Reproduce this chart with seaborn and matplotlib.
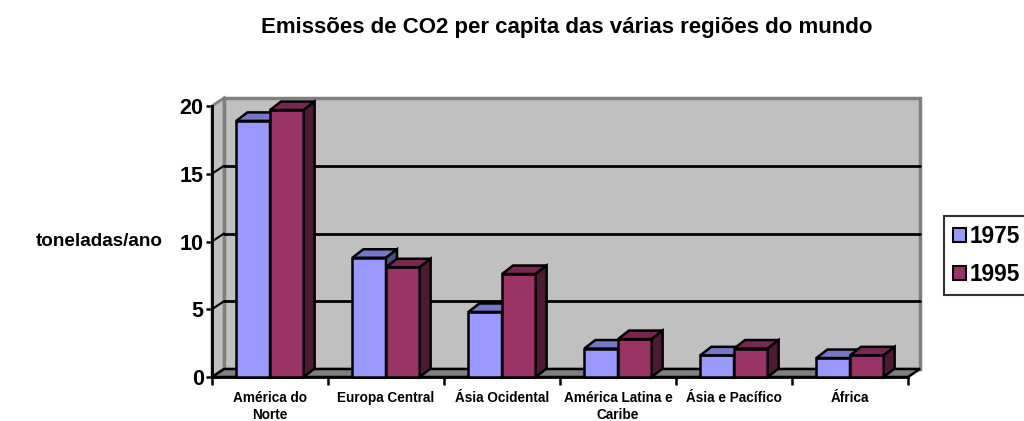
import numpy as np
import pandas as pd
import matplotlib
matplotlib.use("Agg")
import matplotlib.pyplot as plt
from matplotlib.patches import Polygon, Rectangle
from matplotlib.lines import Line2D
from matplotlib.colors import to_rgb
import seaborn as sns

# ---- data -------------------------------------------------------------
regions = ["América do\nNorte", "Europa Central", "Ásia Ocidental",
           "América Latina e\nCaribe", "Ásia e Pacífico", "África"]
years = ["1975", "1995"]
values_1975 = [18.9, 8.8, 4.8, 2.1, 1.6, 1.4]
values_1995 = [19.7, 8.1, 7.6, 2.8, 2.1, 1.6]
y_ticks = [0, 5, 10, 15, 20]
colors = {"1975": "#9999FF", "1995": "#993366"}

df = pd.DataFrame({
    "região": regions * 2,
    "ano": [years[0]] * len(regions) + [years[1]] * len(regions),
    "valor": values_1975 + values_1995,
})

# ---- style ------------------------------------------------------------
sns.set_theme(style="white")
plt.rcParams["font.family"] = ["Liberation Sans", "DejaVu Sans"]
plt.rcParams["font.weight"] = "bold"
for key in ["text.color", "axes.labelcolor", "xtick.color", "ytick.color"]:
    plt.rcParams[key] = "black"

W, H = 1024, 421
fig = plt.figure(figsize=(W / 100, H / 100), dpi=100)
# front plane of the 3-D box, in pixels
left_px, right_px, top_px, bottom_px = 212, 908, 106, 377
ax = fig.add_axes([left_px / W, 1 - bottom_px / H,
                   (right_px - left_px) / W, (bottom_px - top_px) / H])

sns.barplot(data=df, x="região", y="valor", hue="ano", order=regions,
            hue_order=years, palette=colors, width=0.58, gap=0,
            edgecolor="black", linewidth=1.8, saturation=1, ax=ax,
            legend=True)

xmin, xmax = -0.5, len(regions) - 0.5
ymin, ymax = 0, 20
ax.set_xlim(xmin, xmax)
ax.set_ylim(ymin, ymax)

# depth of the box expressed in data units
px_per_x = (right_px - left_px) / (xmax - xmin)
px_per_y = (bottom_px - top_px) / (ymax - ymin)
dx = 12 / px_per_x
dy = 8 / px_per_y
bdx = 11 / px_per_x
bdy = 8.5 / px_per_y

wall = "#C0C0C0"
wall_edge = "#808080"

# back wall
ax.add_patch(Rectangle((xmin + dx, ymin + dy), xmax - xmin, ymax - ymin,
                       facecolor=wall, edgecolor=wall_edge, linewidth=2.5,
                       zorder=0.5, clip_on=False))
# left wall
ax.add_patch(Polygon([(xmin, ymin), (xmin + dx, ymin + dy),
                      (xmin + dx, ymax + dy), (xmin, ymax)],
                     closed=True, facecolor=wall, edgecolor=wall_edge,
                     linewidth=2, zorder=0.6, clip_on=False))
# floor
ax.add_patch(Polygon([(xmin, ymin), (xmax, ymin), (xmax + dx, ymin + dy),
                      (xmin + dx, ymin + dy)],
                     closed=True, facecolor="#808080", edgecolor="black",
                     linewidth=1.8, zorder=0.7, clip_on=False))
# gridlines on back wall and left wall
for v in y_ticks[1:-1]:
    ax.add_line(Line2D([xmin + dx, xmax + dx], [v + dy, v + dy],
                       color="black", linewidth=2, zorder=0.8, clip_on=False))
    ax.add_line(Line2D([xmin, xmin + dx], [v, v + dy],
                       color="black", linewidth=1.5, zorder=0.8, clip_on=False))


def shade(c, f):
    r, g, b = to_rgb(c)
    return (r * f, g * f, b * f)


# give every bar a top and a side face
bars = sorted([p for p in ax.patches if isinstance(p, Rectangle)
               and p.get_height() > 0 and p.get_width() < 1],
              key=lambda p: p.get_x())
for k, p in enumerate(bars):
    x0, w, h = p.get_x(), p.get_width(), p.get_height()
    fc = p.get_facecolor()
    z = 3 + k * 0.1
    p.set_zorder(z)
    p.set_clip_on(False)
    p.set_joinstyle("miter")
    top = Polygon([(x0, h), (x0 + w, h), (x0 + w + bdx, h + bdy),
                   (x0 + bdx, h + bdy)], closed=True,
                  facecolor=shade(fc, 0.78), edgecolor="black",
                  linewidth=1.8, zorder=z + 0.02, clip_on=False,
                  joinstyle="miter")
    side = Polygon([(x0 + w, 0), (x0 + w + bdx, bdy),
                    (x0 + w + bdx, h + bdy), (x0 + w, h)], closed=True,
                   facecolor=shade(fc, 0.5), edgecolor="black",
                   linewidth=1.8, zorder=z + 0.03, clip_on=False,
                   joinstyle="miter")
    ax.add_patch(top)
    ax.add_patch(side)

# ---- axes -------------------------------------------------------------
for s in ["top", "right"]:
    ax.spines[s].set_visible(False)
for s in ["left", "bottom"]:
    ax.spines[s].set_color("black")
    ax.spines[s].set_linewidth(2)
    ax.spines[s].set_zorder(2.5)

ax.set_yticks(y_ticks)
ax.set_yticklabels([str(v) for v in y_ticks], fontsize=15.5,
                   fontweight="bold")
ax.tick_params(axis="y", direction="inout", length=8, width=1.8,
               color="black", pad=2, left=True)

ax.set_xticks(range(len(regions)))
ax.set_xticklabels(regions, fontsize=9.8, fontweight="bold",
                   linespacing=1.3)
ax.set_xticks(np.arange(xmin, xmax + 0.01, 1.0), minor=True)
ax.tick_params(axis="x", which="major", length=0, pad=10)
ax.tick_params(axis="x", which="minor", direction="out", length=6,
               width=1.8, color="black", bottom=True)

ax.set_xlabel("")
ax.set_ylabel("toneladas/ano", rotation=0, fontsize=13.6,
              fontweight="bold", ha="right", va="center")
ax.yaxis.set_label_coords((163 - left_px) / (right_px - left_px), 0.5)
ax.grid(False)

# ---- title ------------------------------------------------------------
fig.text(567 / W, 1 - 27 / H,
         "Emissões de CO2 per capita das várias regiões do mundo",
         ha="center", va="center", fontsize=16, fontweight="bold")

# ---- legend -----------------------------------------------------------
handles, labels = ax.get_legend_handles_labels()
ax.legend_.remove()
leg = fig.legend(handles, labels, loc="upper left",
                 bbox_to_anchor=(944 / W, 1 - 216 / H), borderaxespad=0,
                 frameon=True, fancybox=False, shadow=False,
                 prop={"size": 16.3, "weight": "bold"},
                 handlelength=0.55, handleheight=0.55, handletextpad=0.2,
                 labelspacing=0.65, borderpad=0.4)
leg.get_frame().set_edgecolor("black")
leg.get_frame().set_linewidth(1.5)
for hd in leg.legend_handles:
    hd.set_edgecolor("black")
    hd.set_linewidth(1.5)

fig.savefig("out.png", dpi=100, facecolor="white")
